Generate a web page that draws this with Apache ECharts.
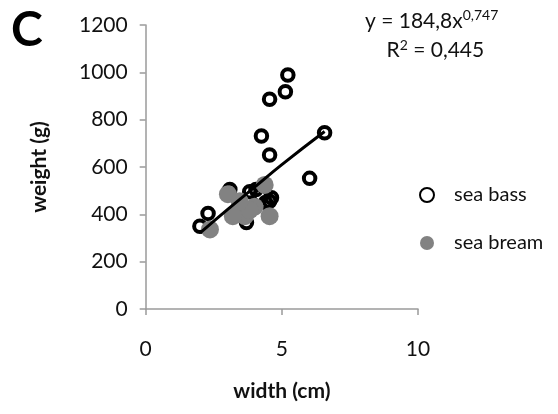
<!DOCTYPE html>
<html>
<head>
<meta charset="utf-8">
<script src="https://cdn.jsdelivr.net/npm/echarts@6/dist/echarts.min.js"></script>
<style>
html,body{margin:0;padding:0;background:#fff;}
#chart{width:558px;height:414px;}
</style>
</head>
<body>
<div id="chart"></div>
<script>
var seriesNames = ['sea bass', 'sea bream'];
var seaBassX = [5.22, 5.13, 4.55, 6.57, 4.25, 4.55, 6.02, 2.29, 1.99, 3.09, 3.82, 4.55, 3.70, 4.62, 4.20, 4.05, 4.40];
var seaBassY = [989, 918, 886, 745, 731, 651, 552, 404, 350, 505, 495, 455, 365, 470, 480, 505, 450];
var seaBreamX = [3.02, 3.45, 3.64, 4.37, 4.55, 4.00, 2.36, 3.20, 3.82, 3.45];
var seaBreamY = [485, 425, 392, 524, 392, 432, 336, 392, 418, 455];
var trendX = [2.0, 3.0, 4.0, 5.0, 6.57];
var trendY = [322, 420, 515, 610, 750];
var xTicks = [0, 5, 10];
var yTicks = [0, 200, 400, 600, 800, 1000, 1200];
var equationText = ['y = 184,8x', '0,747', 'R', '2', ' = 0,445'];

function pairs(xs, ys) { return xs.map(function (x, i) { return [x, ys[i]]; }); }

var font = 'Lato, "Open Sans", sans-serif';
var chart = echarts.init(document.getElementById('chart'), null, {renderer: 'canvas'});
chart.setOption({
  animation: false,
  backgroundColor: '#ffffff',
  grid: {left: 145.7, right: 140, top: 25, bottom: 105, containLabel: false},
  title: [
    {text: 'C', left: 6, top: 2, textStyle: {fontFamily: font, fontSize: 48, fontWeight: 'bold', color: '#000'}},
    {
      text: '{a|' + equationText[0] + '}{s|' + equationText[1] + '}\n{a|    }{a|' + equationText[2] + '}{s2|' + equationText[3] + '}{a|' + equationText[4] + '}',
      left: 360, top: 2,
      textStyle: {
        rich: {
          a: {fontFamily: font, fontSize: 21, fontWeight: 'normal', color: '#111', lineHeight: 29},
          s: {fontFamily: font, fontSize: 14, fontWeight: 'normal', color: '#111', lineHeight: 29, padding: [0, 0, 12, 0]},
          s2: {fontFamily: font, fontSize: 14, fontWeight: 'normal', color: '#111', lineHeight: 29, padding: [0, 0, 10, 0]}
        }
      }
    }
  ],
  legend: {
    data: seriesNames,
    orient: 'vertical',
    left: 414, top: 180,
    itemGap: 28,
    itemWidth: 14, itemHeight: 14,
    textStyle: {fontFamily: font, fontSize: 20, color: '#111', padding: [0, 0, 0, 15]}
  },
  xAxis: {
    type: 'value', min: 0, max: 10, interval: 5,
    name: 'width (cm)', nameLocation: 'middle', nameGap: 72,
    nameTextStyle: {fontFamily: font, fontSize: 21, fontWeight: 'bold', color: '#111'},
    axisLine: {show: true, lineStyle: {color: '#9a9a9a', width: 1.5}},
    axisTick: {show: true, length: 6, lineStyle: {color: '#9a9a9a', width: 1.5}},
    axisLabel: {fontFamily: font, fontSize: 21, color: '#111', margin: 30, formatter: function (v) { return String(v); }},
    splitLine: {show: false}
  },
  yAxis: {
    type: 'value', min: 0, max: 1200, interval: 200,
    name: 'weight (g)', nameLocation: 'middle', nameGap: 96,
    nameTextStyle: {fontFamily: font, fontSize: 21, fontWeight: 'bold', color: '#111'},
    axisLine: {show: true, lineStyle: {color: '#9a9a9a', width: 1.5}},
    axisTick: {show: true, length: 6, lineStyle: {color: '#9a9a9a', width: 1.5}},
    axisLabel: {fontFamily: font, fontSize: 21, color: '#111', margin: 18, formatter: function (v) { return String(v); }},
    splitLine: {show: false}
  },
  series: [
    {
      name: seriesNames[0], type: 'scatter', symbol: 'circle', symbolSize: 11.5,
      data: pairs(seaBassX, seaBassY),
      itemStyle: {color: 'rgba(255,255,255,0)', borderColor: '#000000', borderWidth: 4, opacity: 1}
    },
    {
      name: seriesNames[1], type: 'scatter', symbol: 'circle', symbolSize: 18,
      data: pairs(seaBreamX, seaBreamY),
      itemStyle: {color: '#828282', opacity: 1}
    },
    {
      name: 'trend', type: 'line', showSymbol: false, smooth: true,
      data: pairs(trendX, trendY),
      lineStyle: {color: '#000000', width: 3}
    }
  ]
});
</script>
</body>
</html>
